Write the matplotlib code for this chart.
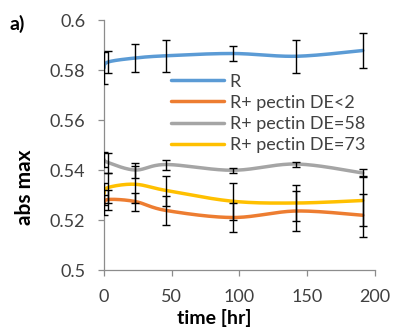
import numpy as np
import matplotlib
matplotlib.use("Agg")
import matplotlib.pyplot as plt

plt.rcParams['font.family'] = ['Lato', 'DejaVu Sans']

time_hr = [0, 3, 23, 46, 95, 142, 191]
series_names = ["R", "R+ pectin DE<2", "R+ pectin DE=58", "R+ pectin DE=73"]
r_vals = [0.5808, 0.5832, 0.5848, 0.5857, 0.5866, 0.5855, 0.5878]
de2_vals = [0.5262, 0.5282, 0.5274, 0.5238, 0.5210, 0.5236, 0.5219]
de58_vals = [0.5442, 0.5430, 0.5400, 0.5422, 0.5399, 0.5424, 0.5388]
de73_vals = [0.5305, 0.5330, 0.5343, 0.5318, 0.5275, 0.5268, 0.5278]
r_err = [0.0065, 0.0045, 0.0057, 0.0065, 0.0030, 0.0065, 0.0070]
de2_err = [0.0040, 0.0040, 0.0036, 0.0057, 0.0057, 0.0080, 0.0086]
de58_err = [0.0030, 0.0040, 0.0030, 0.0020, 0.0010, 0.0010, 0.0015]
de73_err = [0.0045, 0.0060, 0.0075, 0.0060, 0.0073, 0.0073, 0.0100]
colors = ["#5B9BD5", "#ED7D31", "#A5A5A5", "#FFC000"]
x_ticks = [0, 50, 100, 150, 200]
y_ticks = [0.5, 0.52, 0.54, 0.56, 0.58, 0.6]
y_tick_labels = ["0.5", "0.52", "0.54", "0.56", "0.58", "0.6"]


def smooth(x, y, xr=200.0, yr=0.1, n=30):
    # Excel-like smoothed line (Catmull-Rom Bezier) in normalized space
    P = np.column_stack([np.asarray(x, float) / xr, np.asarray(y, float) / yr])
    P = np.vstack([P[0], P, P[-1]])
    out = []
    t = np.linspace(0, 1, n)[:, None]
    for i in range(1, len(P) - 2):
        p0, p1, p2, p3 = P[i - 1], P[i], P[i + 1], P[i + 2]
        c1 = p1 + (p2 - p0) / 6.0
        c2 = p2 - (p3 - p1) / 6.0
        seg = ((1 - t) ** 3) * p1 + 3 * ((1 - t) ** 2) * t * c1 + 3 * (1 - t) * t ** 2 * c2 + t ** 3 * p2
        out.append(seg if i == 1 else seg[1:])
    out = np.vstack(out)
    return out[:, 0] * xr, out[:, 1] * yr


fig = plt.figure(figsize=(3.93, 3.34), dpi=100)
ax = fig.add_axes([0.2646, 0.1916, 0.6896, 0.7485])

vals = [r_vals, de2_vals, de58_vals, de73_vals]
errs = [r_err, de2_err, de58_err, de73_err]
for name, v, c in zip(series_names, vals, colors):
    sx, sy = smooth(time_hr, v)
    ax.plot(sx, sy, color=c, lw=2.5, label=name, solid_capstyle='round', zorder=2)
for v, e in zip(vals, errs):
    ax.errorbar(time_hr, v, yerr=e, fmt='none', ecolor='black', elinewidth=1.0,
                capsize=3, capthick=1.0, zorder=3)

ax.set_xlim(0, 200)
ax.set_ylim(0.5, 0.6)
ax.set_xticks(x_ticks)
ax.set_xticklabels([str(t) for t in x_ticks])
ax.set_yticks(y_ticks)
ax.set_yticklabels(y_tick_labels)
for s in ['top', 'right']:
    ax.spines[s].set_visible(False)
for s in ['left', 'bottom']:
    ax.spines[s].set_color('#8C8C8C')
    ax.spines[s].set_linewidth(0.9)
ax.tick_params(axis='both', colors='#8C8C8C', labelcolor='#404040', labelsize=13,
               length=4.5, width=0.9, direction='out')
ax.tick_params(axis='x', pad=9)
ax.tick_params(axis='y', pad=9)

ax.set_xlabel("time [hr]", fontsize=14, fontweight='bold', va='center')
ax.xaxis.set_label_coords(0.408, -0.192)
ax.set_ylabel("abs max", fontsize=15, fontweight='bold', va='center')
ax.yaxis.set_label_coords(-0.293, 0.33)

leg = ax.legend(loc='upper left', bbox_to_anchor=(0.248, 0.785), frameon=False,
                fontsize=13, handlelength=2.95, handletextpad=0.28, labelspacing=0.28,
                borderaxespad=0, borderpad=0)
for txt in leg.get_texts():
    txt.set_color('#404040')

fig.text(0.025, 0.927, "a)", fontsize=14, fontweight='bold', ha='left', va='center')

fig.savefig("out.png", dpi=100)
